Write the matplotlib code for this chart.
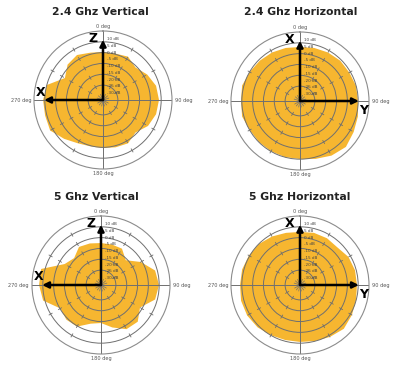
import numpy as np
import matplotlib
matplotlib.use("Agg")
import matplotlib.pyplot as plt

# angles in degrees (clockwise from top), gain in dB
angles = [0, 15, 30, 45, 60, 75, 90, 105, 120, 135, 150, 165,
          180, 195, 210, 225, 240, 255, 270, 285, 300, 315, 330, 345]

g24_vert = [0.5, 0.5, 2.0, -1.0, 2.7, 5.6, 6.4, 5.6, 3.4, -1.0, 2.0, 1.2,
            0.5, 0.5, 2.0, 5.6, 10.1, 9.3, 9.3, 7.9, -2.5, 2.0, 3.4, 1.2]
g24_horiz = [4.9, 5.6, 6.4, 7.1, 7.1, 7.9, 7.9, 9.3, 10.8, 13.0, 11.6, 9.3,
             7.9, 7.9, 7.9, 7.9, 7.9, 9.3, 8.6, 9.3, 7.9, 7.1, 6.4, 5.6]
g5_vert = [-4.0, -4.0, -4.0, -9.1, -1.0, 6.4, 7.9, 6.4, -1.7, 3.4, 2.7, -2.5,
           -6.9, -5.4, 0.5, 1.2, -0.3, 9.3, 10.8, 10.8, -4.0, -6.9, -2.5, -3.2]
g5_horiz = [4.2, 4.9, 4.9, 4.2, 6.4, 7.1, 7.1, 7.9, 9.3, 10.8, 9.3, 7.9,
            7.1, 7.1, 7.9, 9.3, 10.1, 10.1, 9.3, 9.3, 8.6, 7.9, 6.4, 4.9]

titles = ["2.4 Ghz Vertical", "2.4 Ghz Horizontal", "5 Ghz Vertical", "5 Ghz Horizontal"]
axis_names = [("Z", "X"), ("X", "Y"), ("Z", "X"), ("X", "Y")]
db_labels = [10, 5, 0, -5, -10, -15, -20, -25, -30]
ring_values = [-24, -16, -8, 0, 8]
deg_angles = [0, 90, 180, 270]
deg_labels = ["0 deg", "90 deg", "180 deg", "270 deg"]

R_MIN = -35
R_MAX = 16
YELLOW = '#F6B630'
GRID = '#6f6f6f'

fig = plt.figure(figsize=(4.0, 3.69), dpi=100)

# axes boxes in pixels: (center x, center y from top)
centers = [(103, 100), (300, 101), (101, 285), (300, 285)]
title_pos = [(100, 12), (301, 12), (96, 197), (300, 197)]
size = 138

series = [g24_vert, g24_horiz, g5_vert, g5_horiz]

# where the "deg" labels go around the circle
deg_offsets = [(0, 2), (3, 0), (0, -2), (-3, 0)]
deg_align = [('center', 'bottom'), ('left', 'center'), ('center', 'top'), ('right', 'center')]

for i in range(4):
    cx, cy = centers[i]
    left = (cx - size / 2) / 400
    bottom = (369 - cy - size / 2) / 369
    ax = fig.add_axes([left, bottom, size / 400, size / 369], projection='polar')
    ax.set_theta_zero_location('N')
    ax.set_theta_direction(-1)

    th = np.deg2rad(angles + [angles[0]])
    r = series[i] + [series[i][0]]
    ax.fill(th, r, color=YELLOW, lw=0, zorder=1)

    ax.set_ylim(R_MIN, R_MAX)
    ax.set_rgrids(ring_values, labels=[])
    ax.set_thetagrids(deg_angles, labels=[])
    ax.tick_params(axis='x', length=0)
    ax.grid(True, color=GRID, lw=0.7)
    ax.spines['polar'].set_color('#8c8c8c')
    ax.spines['polar'].set_linewidth(0.8)

    for a, lab, off, al in zip(deg_angles, deg_labels, deg_offsets, deg_align):
        ax.annotate(lab, xy=(np.deg2rad(a), R_MAX), xytext=off, textcoords='offset pixels',
                    fontsize=3.6, color='#555555', ha=al[0], va=al[1],
                    annotation_clip=False)

    # little dashes on the rings
    for rv in ring_values:
        for a in range(30, 360, 30):
            if a % 90 == 0:
                continue
            ax.plot([np.deg2rad(a)] * 2, [rv - 1.3, rv + 1.3], color=GRID, lw=0.6, zorder=2)
    # star at the centre
    for a in range(0, 360, 24):
        ax.plot([np.deg2rad(a)] * 2, [R_MIN, -30.5], color=GRID, lw=0.5, zorder=2)

    for d in db_labels:
        ax.annotate(f"{d} dB", xy=(0, d), xytext=(4, 0), textcoords='offset pixels',
                    fontsize=3.0, color='#444444', va='center', ha='left', zorder=4)

    # arrows
    up_name, side_name = axis_names[i]
    side_theta = np.deg2rad(270) if up_name == "Z" else np.deg2rad(90)
    arrow = dict(arrowstyle='-|>', lw=1.8, color='black', mutation_scale=9,
                 shrinkA=0, shrinkB=0)
    ax.annotate('', xy=(0, 9.5), xytext=(0, R_MIN), arrowprops=arrow, zorder=6)
    ax.annotate('', xy=(side_theta, 8.5), xytext=(0, R_MIN), arrowprops=arrow, zorder=6)
    ax.annotate(up_name, xy=(0, 9.5), xytext=(-10, 1), textcoords='offset pixels',
                fontsize=9, fontweight='bold', ha='center', va='center', zorder=7)
    if up_name == "Z":
        ax.annotate(side_name, xy=(side_theta, 8.5), xytext=(-4, 8), textcoords='offset pixels',
                    fontsize=9, fontweight='bold', ha='center', va='center', zorder=7)
    else:
        ax.annotate(side_name, xy=(side_theta, 8.5), xytext=(5, -9), textcoords='offset pixels',
                    fontsize=9, fontweight='bold', ha='center', va='center', zorder=7)

    tx, ty = title_pos[i]
    fig.text(tx / 400, 1 - ty / 369, titles[i], fontsize=7.8, fontweight='bold',
             ha='center', va='center', color='#222222')

fig.savefig("out.png", dpi=100)
